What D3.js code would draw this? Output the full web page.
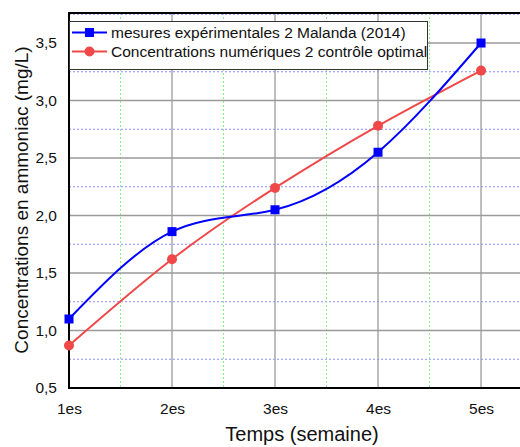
<!DOCTYPE html>
<html>
<head>
<meta charset="utf-8">
<script src="https://cdn.jsdelivr.net/npm/d3@7"></script>
<style>
  html, body { margin: 0; padding: 0; background: #fff; }
  svg text { font-family: "Liberation Sans", Arial, sans-serif; }
</style>
</head>
<body>
<svg id="chart" width="520" height="447"></svg>
<script>
// Weeks and ammonia concentrations (mg/L)
const weeks = [1, 2, 3, 4, 5];
const weekLabels = ["1es", "2es", "3es", "4es", "5es"];
const measured = [1.10, 1.86, 2.05, 2.55, 3.50];
const simulated = [0.87, 1.62, 2.24, 2.78, 3.26];
const yTicks = [0.5, 1.0, 1.5, 2.0, 2.5, 3.0, 3.5];
const yMinorTicks = [0.75, 1.25, 1.75, 2.25, 2.75, 3.25, 3.75];
const xMinorTicks = [1.5, 2.5, 3.5, 4.5];
const seriesNames = [
  "mesures expérimentales 2 Malanda (2014)",
  "Concentrations numériques 2 contrôle optimal"
];

const svg = d3.select("#chart");
const plotL = 69, plotR = 521, plotT = 13, plotB = 388;

const x = d3.scaleLinear().domain([1, 5.388]).range([plotL, plotR]);
const y = d3.scaleLinear().domain([0.5, 3.761]).range([plotB, plotT]);

// minor grid
svg.append("g").selectAll("line").data(yMinorTicks).join("line")
  .attr("x1", plotL).attr("x2", plotR)
  .attr("y1", d => y(d)).attr("y2", d => y(d))
  .attr("stroke", "#8c8cff").attr("stroke-width", 1).attr("stroke-dasharray", "2,2");
svg.append("g").selectAll("line").data(xMinorTicks).join("line")
  .attr("x1", d => x(d)).attr("x2", d => x(d))
  .attr("y1", plotT).attr("y2", plotB)
  .attr("stroke", "#8cf08c").attr("stroke-width", 1).attr("stroke-dasharray", "2,2");

// major grid
svg.append("g").selectAll("line").data(yTicks.slice(1)).join("line")
  .attr("x1", plotL).attr("x2", plotR)
  .attr("y1", d => y(d)).attr("y2", d => y(d))
  .attr("stroke", "#9a9a9a").attr("stroke-width", 1.3);
svg.append("g").selectAll("line").data(weeks.slice(1)).join("line")
  .attr("x1", d => x(d)).attr("x2", d => x(d))
  .attr("y1", plotT).attr("y2", plotB)
  .attr("stroke", "#9a9a9a").attr("stroke-width", 1.3);

// frame
svg.append("rect").attr("x", plotL).attr("y", plotT)
  .attr("width", plotR - plotL).attr("height", plotB - plotT)
  .attr("fill", "none").attr("stroke", "#000").attr("stroke-width", 2);

// axes labels
const yAxis = d3.axisLeft(y).tickValues(yTicks).tickSize(0).tickPadding(12)
  .tickFormat(d => d3.format(".1f")(d).replace(".", ","));
svg.append("g").attr("transform", `translate(${plotL},0)`).call(yAxis)
  .call(g => g.select(".domain").remove())
  .selectAll("text").attr("font-size", 15.5).attr("fill", "#111")
  .style("font-family", "'Liberation Sans', Arial, sans-serif");

const xAxis = d3.axisBottom(x).tickValues(weeks).tickSize(0).tickPadding(15)
  .tickFormat((d, i) => weekLabels[i]);
svg.append("g").attr("transform", `translate(0,${plotB})`).call(xAxis)
  .call(g => g.select(".domain").remove())
  .selectAll("text").attr("font-size", 15.5).attr("fill", "#111")
  .style("font-family", "'Liberation Sans', Arial, sans-serif");

svg.append("text").attr("x", 302).attr("y", 441).attr("text-anchor", "middle")
  .attr("font-size", 20).attr("fill", "#111").text("Temps (semaine)");
svg.append("text").attr("transform", "translate(27.5,200) rotate(-90)")
  .attr("text-anchor", "middle").attr("font-size", 19).attr("fill", "#111")
  .text("Concentrations en ammoniac (mg/L)");

// series
const line = d3.line().x((d, i) => x(weeks[i])).y(d => y(d)).curve(d3.curveNatural);

svg.append("path").datum(simulated).attr("d", line)
  .attr("fill", "none").attr("stroke", "#f04848").attr("stroke-width", 2);
svg.append("g").selectAll("circle").data(simulated).join("circle")
  .attr("cx", (d, i) => x(weeks[i])).attr("cy", d => y(d)).attr("r", 5)
  .attr("fill", "#f04848");

svg.append("path").datum(measured).attr("d", line)
  .attr("fill", "none").attr("stroke", "#0000ff").attr("stroke-width", 2);
svg.append("g").selectAll("rect").data(measured).join("rect")
  .attr("x", (d, i) => x(weeks[i]) - 4.5).attr("y", d => y(d) - 4.5)
  .attr("width", 9).attr("height", 9).attr("fill", "#0000ff");

// legend
const lg = svg.append("g");
lg.append("rect").attr("x", 69.5).attr("y", 21.5).attr("width", 358).attr("height", 48)
  .attr("fill", "#fff").attr("stroke", "#333").attr("stroke-width", 1);
const legendColors = ["#0000ff", "#f04848"];
seriesNames.forEach((name, i) => {
  const cy = 32.5 + i * 19;
  lg.append("line").attr("x1", 72).attr("x2", 107).attr("y1", cy).attr("y2", cy)
    .attr("stroke", legendColors[i]).attr("stroke-width", 2);
  if (i === 0) {
    lg.append("rect").attr("x", 85).attr("y", cy - 4.5).attr("width", 9).attr("height", 9)
      .attr("fill", legendColors[i]);
  } else {
    lg.append("circle").attr("cx", 89.5).attr("cy", cy).attr("r", 5).attr("fill", legendColors[i]);
  }
  lg.append("text").attr("x", 111).attr("y", cy + 5.5).attr("font-size", 15.5)
    .attr("fill", "#111").text(name);
});
</script>
</body>
</html>
